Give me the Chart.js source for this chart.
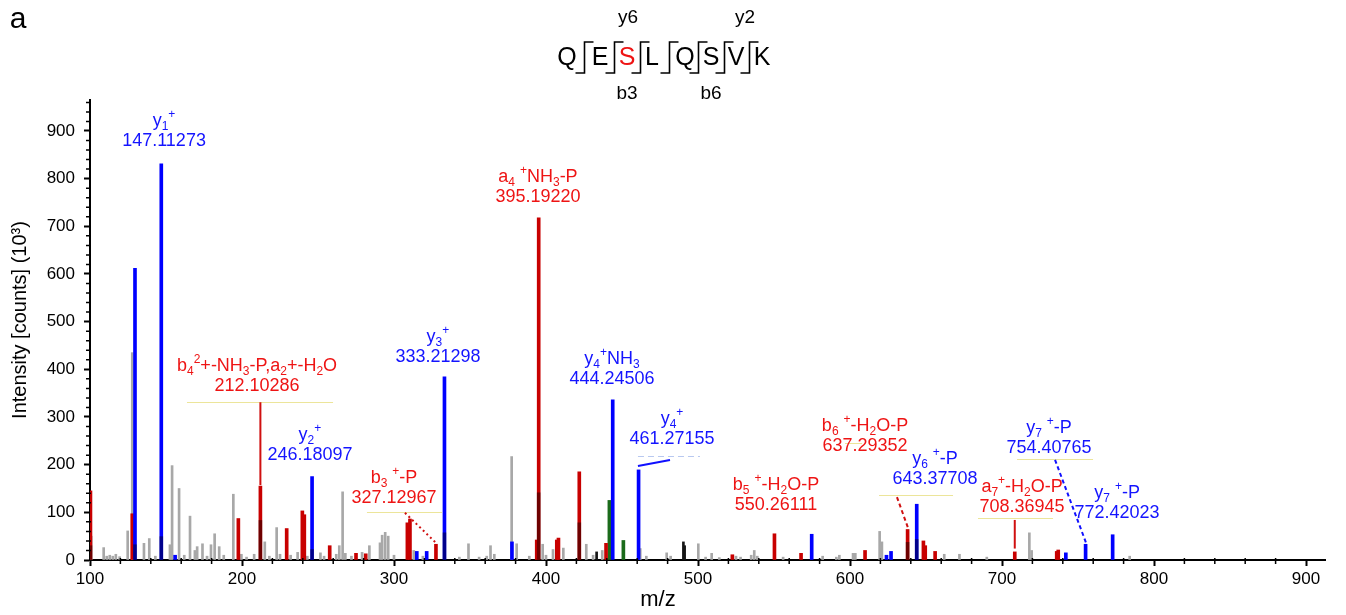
<!DOCTYPE html>
<html>
<head>
<meta charset="utf-8">
<script src="https://cdn.jsdelivr.net/npm/chart.js@4.4.1/dist/chart.umd.min.js"></script>
<style>
  html, body { margin: 0; padding: 0; background: #fff; }
</style>
</head>
<body>
<canvas id="spectrum" width="1346" height="615"></canvas>
<script>
// peak lists (m/z, intensity in 10^3 counts)
const greyMz = [100.8, 109, 111, 113, 115, 117, 119.5, 124.8, 127.8, 135.5, 139, 143, 152.6, 154, 158.6, 162, 165.8, 169, 170.5, 174, 177, 179.6, 182, 185, 188, 194.3, 199.6, 203, 208, 215, 218, 222.8, 225, 232, 236.6, 243, 251.6, 254, 262, 264, 266.2, 268, 272, 279, 283.8, 290.8, 292.2, 294.2, 296.2, 300, 313, 319, 343, 349, 356, 361, 363.5, 366, 377.4, 380.7, 389, 397.8, 400, 404.6, 411.4, 426.5, 431, 437, 462, 466, 479.4, 482, 500.2, 505, 509, 514, 525, 528, 535, 537, 539, 556, 582, 591, 593, 602, 603.5, 619.5, 621, 662, 672, 690, 718, 719.5, 784];
const greyInt = [50, 26, 8, 10, 8, 12, 7, 61, 435, 35, 45, 8, 32, 198, 150, 10, 92, 20, 28, 34, 8, 32, 55, 28, 10, 138, 12, 6, 12, 38, 8, 68, 12, 10, 16, 8, 15, 8, 12, 30, 143, 14, 8, 16, 30, 36, 52, 58, 50, 10, 20, 8, 6, 34, 6, 8, 30, 12, 217, 34, 8, 33, 10, 22, 25, 33, 10, 20, 24, 8, 15, 8, 34, 6, 14, 5, 8, 6, 10, 20, 8, 6, 8, 6, 10, 14, 14, 60, 38, 12, 12, 6, 57, 20, 8];

const redMz = [100.3, 127.8, 197.6, 212.1, 229.4, 239.7, 241, 257.7, 275, 281.4, 308.8, 310.5, 327.6, 393.9, 395.2, 407.1, 408.2, 421.9, 439.5, 522.6, 550.3, 567.8, 609.9, 637.9, 648.3, 649.5, 656, 708.4, 736, 737];
const redInt = [145, 97, 87, 155, 66, 103, 95, 30, 14, 13, 78, 86, 33, 42, 718, 42, 46, 185, 35, 11, 55, 14, 20, 64, 40, 30, 18, 17, 18, 21];

const blueMz = [129.6, 146.9, 156, 246.1, 315, 321.5, 333.2, 377.6, 443.9, 460.9, 574.8, 624, 627, 643.9, 742, 755, 772.8];
const blueInt = [612, 831, 10, 175, 18, 18, 384, 38, 336, 189, 54, 10, 18, 117, 15, 33, 53];

const greenMz = [441.7, 450.9];
const greenInt = [125, 41];

const blackMz = [433.3, 490.4, 491.2];
const blackInt = [17, 38, 30];

// darker lower parts of some peaks (overlapping unassigned signal)
const darkMz = [100.3, 129.6, 146.9, 212.1, 246.1, 333.2, 395.2, 421.9, 637.9, 643.9];
const darkInt = [30, 32, 49, 83, 22, 57, 141, 78, 37, 43];

const xTicks = [100, 200, 300, 400, 500, 600, 700, 800, 900];
const yTicks = [0, 100, 200, 300, 400, 500, 600, 700, 800, 900];

// fragment annotations
const annIon = ['y_{1}^{+}', 'b_{4}^{2}+-NH_{3}-P,a_{2}+-H_{2}O', 'y_{2}^{+}', 'b_{3} ^{+}-P', 'y_{3}^{+}', 'a_{4} ^{+}NH_{3}-P', 'y_{4}^{+}NH_{3}', 'y_{4}^{+}', 'b_{5} ^{+}-H_{2}O-P', 'b_{6} ^{+}-H_{2}O-P', 'y_{6} ^{+}-P', 'a_{7}^{+}-H_{2}O-P', 'y_{7} ^{+}-P', 'y_{7} ^{+}-P'];
const annMass = ['147.11273', '212.10286', '246.18097', '327.12967', '333.21298', '395.19220', '444.24506', '461.27155', '550.26111', '637.29352', '643.37708', '708.36945', '754.40765', '772.42023'];
const annSeries = ['y', 'b', 'y', 'b', 'y', 'b', 'y', 'y', 'b', 'b', 'y', 'b', 'y', 'y'];
const annMz = [148.7, 209.9, 244.7, 300, 328.9, 394.7, 443.4, 482.9, 551.3, 609.9, 655.9, 713.2, 730.9, 775.7];
const annAt = [879, 365, 220, 130, 426, 761, 380, 254, 115, 239, 170, 111, 235, 99];

// label underlines: from, to, level
const ulFrom = [163.8, 282.2, 460.5, 619.1, 684.2, 709.9, 596.7];
const ulTo = [259.9, 331.6, 501.3, 667.8, 733.6, 759.9, 607.9];
const ulAt = [331, 101, 218, 137, 88, 212, 245];

// leader lines from labels to peaks
const ldMz1 = [212.1, 307.2, 460.5, 630.9, 708.4, 734.9];
const ldAt1 = [331, 99, 197, 132, 84, 210];
const ldMz2 = [212.1, 327.6, 481.6, 638.2, 708.4, 755.3];
const ldAt2 = [157, 36, 210, 67, 24, 36];
const ldSeries = ['b', 'b', 'y', 'b', 'b', 'y'];

const FONT = '"Liberation Sans", Arial, Helvetica, sans-serif';
const RED_TEXT = '#ee1414';
const BLUE_TEXT = '#1414ff';

function pts(xs, ys) {
  return xs.map((x, i) => ({ x: x, y: ys[i] }));
}

function parseRich(str) {
  const parts = [];
  const re = /([_^])\{([^}]*)\}|([^_^]+)/g;
  let m;
  while ((m = re.exec(str))) {
    if (m[3]) parts.push({ t: m[3], k: 'n' });
    else parts.push({ t: m[2], k: m[1] === '_' ? 'sub' : 'sup' });
  }
  return parts;
}

function drawRich(ctx, str, cx, cy, size, color) {
  const parts = parseRich(str);
  const fontFor = (k) => (k === 'n' ? size : Math.round(size * 0.68)) + 'px ' + FONT;
  let w = 0;
  parts.forEach((p) => {
    ctx.font = fontFor(p.k);
    p.w = ctx.measureText(p.t).width;
    w += p.w;
  });
  let x = cx - w / 2;
  ctx.fillStyle = color;
  ctx.textBaseline = 'middle';
  ctx.textAlign = 'left';
  parts.forEach((p) => {
    ctx.font = fontFor(p.k);
    const dy = p.k === 'sub' ? size * 0.32 : p.k === 'sup' ? -size * 0.36 : 0;
    ctx.fillText(p.t, x, cy + dy);
    x += p.w;
  });
}

// labels, underlines and leaders
const annotations = {
  id: 'annotations',
  afterDatasetsDraw(chart) {
    const { ctx, scales: { x, y } } = chart;
    ctx.save();
    ulFrom.forEach((f, i) => {
      ctx.beginPath();
      ctx.lineWidth = 1;
      if (i === 2) {
        ctx.strokeStyle = '#b8c8f0';
        ctx.setLineDash([6, 4]);
      } else {
        ctx.strokeStyle = '#ece59a';
        ctx.setLineDash([]);
      }
      const py = Math.round(y.getPixelForValue(ulAt[i])) + 0.5;
      ctx.moveTo(x.getPixelForValue(f), py);
      ctx.lineTo(x.getPixelForValue(ulTo[i]), py);
      ctx.stroke();
    });
    ldMz1.forEach((m1, i) => {
      ctx.beginPath();
      ctx.lineWidth = 2;
      ctx.strokeStyle = ldSeries[i] === 'b' ? '#d01010' : '#1010ff';
      if (i === 1) ctx.setLineDash([2, 3]);
      else if (i === 3 || i === 5) ctx.setLineDash([4, 3]);
      else ctx.setLineDash([]);
      ctx.moveTo(x.getPixelForValue(m1), y.getPixelForValue(ldAt1[i]));
      ctx.lineTo(x.getPixelForValue(ldMz2[i]), y.getPixelForValue(ldAt2[i]));
      ctx.stroke();
    });
    ctx.setLineDash([]);
    annIon.forEach((ion, i) => {
      const col = annSeries[i] === 'b' ? RED_TEXT : BLUE_TEXT;
      const px = x.getPixelForValue(annMz[i]);
      const py = y.getPixelForValue(annAt[i]);
      drawRich(ctx, ion, px, py - 20, 18, col);
      drawRich(ctx, annMass[i], px, py, 18, col);
    });
    ctx.restore();
  }
};

// minor ticks, titles, sequence header
const decorations = {
  id: 'decorations',
  afterDraw(chart) {
    const { ctx, scales: { x, y } } = chart;
    ctx.save();
    ctx.strokeStyle = '#000';
    ctx.lineWidth = 1.5;
    ctx.beginPath();
    for (let v = 120; v <= x.max; v += 20) {
      if (v % 100 === 0) continue;
      const px = x.getPixelForValue(v);
      ctx.moveTo(px, y.bottom - 2);
      ctx.lineTo(px, y.bottom + 4);
    }
    for (let v = 20; v <= y.max; v += 20) {
      if (v % 100 === 0) continue;
      const py = y.getPixelForValue(v);
      ctx.moveTo(x.left - 4, py);
      ctx.lineTo(x.left + 1, py);
    }
    ctx.stroke();

    ctx.fillStyle = '#000';
    ctx.textAlign = 'center';
    ctx.textBaseline = 'middle';
    ctx.font = '22px ' + FONT;
    ctx.fillText('m/z', 658, 600);
    ctx.save();
    ctx.translate(20, 320);
    ctx.rotate(-Math.PI / 2);
    ctx.font = '20px ' + FONT;
    ctx.fillText('Intensity [counts] (10³)', 0, 0);
    ctx.restore();

    ctx.font = '30px ' + FONT;
    ctx.fillText('a', 18, 20);

    // peptide with fragment cleavage marks
    const seq = ['Q', 'E', 'S', 'L', 'Q', 'S', 'V', 'K'];
    const cx = [567, 600, 627, 652, 685, 711, 736, 762];
    ctx.font = '25px ' + FONT;
    seq.forEach((s, i) => {
      ctx.fillStyle = i === 2 ? '#ee1414' : '#000';
      ctx.fillText(s, cx[i], 58);
    });
    ctx.strokeStyle = '#000';
    ctx.lineWidth = 1.6;
    ctx.beginPath();
    for (let i = 0; i < cx.length - 1; i++) {
      const mid = Math.round((cx[i] + cx[i + 1]) / 2) + 0.5;
      ctx.moveTo(mid - 9, 73);
      ctx.lineTo(mid, 73);
      ctx.lineTo(mid, 42);
      ctx.lineTo(mid + 9, 42);
    }
    ctx.stroke();
    ctx.fillStyle = '#000';
    ctx.font = '19px ' + FONT;
    ctx.fillText('y6', 628, 18);
    ctx.fillText('y2', 745, 18);
    ctx.fillText('b3', 627, 94);
    ctx.fillText('b6', 711, 94);
    ctx.restore();
  }
};

function barSet(label, xs, ys, color, thick, order) {
  return {
    label: label,
    data: pts(xs, ys),
    backgroundColor: color,
    borderWidth: 0,
    barThickness: thick,
    grouped: false,
    order: order
  };
}

Chart.defaults.font.family = FONT;

new Chart(document.getElementById('spectrum').getContext('2d'), {
  type: 'bar',
  data: {
    datasets: [
      barSet('dark', darkMz, darkInt, 'rgba(0,0,0,0.45)', 3, 0),
      barSet('other', blackMz, blackInt, '#151515', 2, 1),
      barSet('y ions', blueMz, blueInt, '#0000ff', 3, 1),
      barSet('b ions', redMz, redInt, '#c80000', 3, 1),
      barSet('green', greenMz, greenInt, '#1b6b1b', 3, 1),
      barSet('unassigned', greyMz, greyInt, '#a8a8a8', 2, 3)
    ]
  },
  options: {
    responsive: false,
    animation: false,
    layout: { padding: { top: 100, right: 21, left: 0, bottom: 0 } },
    plugins: {
      legend: { display: false },
      tooltip: { enabled: false },
      title: { display: false }
    },
    scales: {
      x: {
        type: 'linear',
        min: 100,
        max: 912.5,
        offset: false,
        afterFit: (s) => { s.height = 55; },
        afterBuildTicks: (s) => { s.ticks = xTicks.map((v) => ({ value: v })); },
        grid: { drawOnChartArea: false, offset: false, tickLength: 6, tickColor: '#000', tickWidth: 2 },
        border: { color: '#000', width: 2 },
        ticks: { color: '#000', font: { size: 17 }, padding: 3, maxRotation: 0, callback: (v) => String(v) }
      },
      y: {
        min: 0,
        max: 965,
        afterFit: (s) => { s.width = 90; },
        afterBuildTicks: (s) => { s.ticks = yTicks.map((v) => ({ value: v })); },
        grid: { drawOnChartArea: false, tickLength: 6, tickColor: '#000', tickWidth: 2 },
        border: { color: '#000', width: 2 },
        ticks: { color: '#000', font: { size: 17 }, padding: 9, callback: (v) => String(v) }
      }
    }
  },
  plugins: [annotations, decorations]
});
</script>
</body>
</html>
